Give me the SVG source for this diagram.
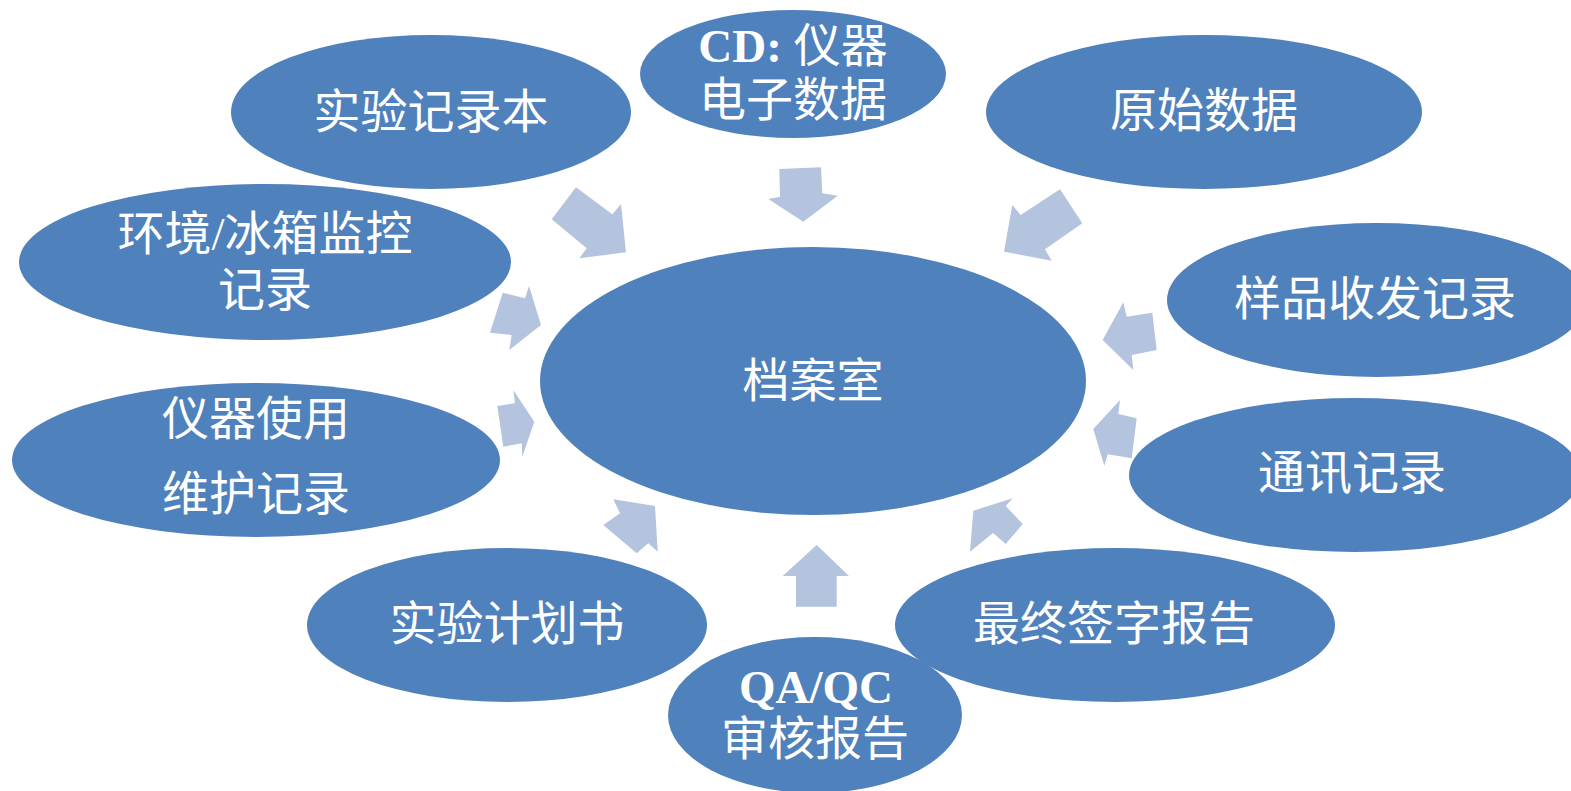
<svg xmlns="http://www.w3.org/2000/svg" width="1571" height="791" viewBox="0 0 1571 791">
<style>
.n{fill:#4F81BD}
.a{fill:#B4C3DE}
text{fill:#fff;font-family:"Liberation Serif","Noto Sans CJK SC",serif;font-size:47px;text-anchor:middle}
.b{font-weight:bold}
</style>
<rect width="1571" height="791" fill="#fff"/>
<g id="connectors">
<polygon class="a" points="551.7,219.3 576,187.3 612.3,214.3 621,204.3 626,252.3 579.3,258.3 586.7,248.3"/>
<polygon class="a" points="779.3,169 821,167.3 822.3,193.3 837.7,195.7 803.3,221.7 768.3,199 780,196.7"/>
<polygon class="a" points="1060,189.3 1082.3,223.3 1045,249.3 1051.7,260.7 1004,251.7 1012.3,205 1020.7,215"/>
<polygon class="a" points="502.7,292.7 525,298.3 529,286 541,325 509.3,350 511.7,335 490,332.7"/>
<polygon class="a" points="497.3,406 515,403.3 513.3,390 534.3,421.7 522.3,456.7 521.7,443.3 503.3,446.7"/>
<polygon class="a" points="1123.3,302.3 1126.7,316.7 1152.3,312.7 1156.7,350 1131.7,355 1133.3,370 1102.7,340"/>
<polygon class="a" points="1120,400 1118.3,414 1136.7,418.3 1131.7,458.3 1107.7,454.3 1104.3,465.7 1093.3,429"/>
<polygon class="a" points="973.3,510.7 1012.7,498.3 1005.7,506 1022.7,524 1005.7,544 993,533 970,551.7"/>
<polygon class="a" points="816.7,545 849,576 836.7,576 836.7,606.7 796,606.7 796,576 782.7,576"/>
<polygon class="a" points="655,506 657.7,551.7 648.3,543.3 636.7,553.3 603.3,525 620,513.3 613.3,499.3"/>
</g>
<g id="center"><ellipse class="n" cx="813" cy="381" rx="273" ry="134"/><text x="813" y="397">档案室</text></g>
<g id="n1"><ellipse class="n" cx="431" cy="112" rx="200" ry="77"/><text x="431" y="128">实验记录本</text></g>
<g id="n2"><ellipse class="n" cx="793" cy="74" rx="153" ry="64"/><text x="793" y="62"><tspan class="b">CD:</tspan> 仪器</text><text x="793" y="116">电子数据</text></g>
<g id="n3"><ellipse class="n" cx="1204" cy="112" rx="218" ry="77"/><text x="1204" y="127">原始数据</text></g>
<g id="n4"><ellipse class="n" cx="265" cy="262" rx="246" ry="78"/><text x="265" y="250">环境/冰箱监控</text><text x="265" y="306">记录</text></g>
<g id="n5"><ellipse class="n" cx="1377" cy="300" rx="210" ry="77"/><text x="1375" y="315">样品收发记录</text></g>
<g id="n6"><ellipse class="n" cx="256" cy="460" rx="244" ry="77"/><text x="256" y="435">仪器使用</text><text x="256" y="510">维护记录</text></g>
<g id="n7"><ellipse class="n" cx="1355" cy="475" rx="226" ry="77"/><text x="1352" y="489">通讯记录</text></g>
<g id="n8"><ellipse class="n" cx="507" cy="625" rx="200" ry="77"/><text x="507" y="640">实验计划书</text></g>
<g id="n9"><ellipse class="n" cx="1115" cy="625" rx="220" ry="77"/><text x="1114" y="640">最终签字报告</text></g>
<g id="n10"><ellipse class="n" cx="815" cy="715" rx="147" ry="78"/><text class="b" x="816" y="703">QA/QC</text><text x="815" y="755">审核报告</text></g>
</svg>
